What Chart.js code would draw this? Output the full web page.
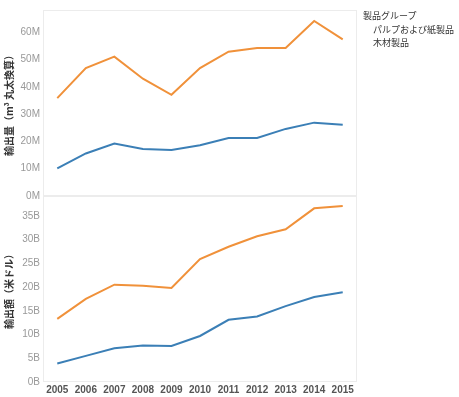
<!DOCTYPE html>
<html><head><meta charset="utf-8">
<script src="https://cdn.jsdelivr.net/npm/chart.js@4"></script>
<style>
html,body{margin:0;padding:0;background:#fff;}
#wrap{position:relative;width:459px;height:397px;}
#legend{position:absolute;left:363px;top:9px;font-family:"Noto Sans CJK JP",sans-serif;font-size:9px;color:#333;line-height:13.5px;}
#legend div.item{padding-left:10px;}
</style></head>
<body><div id="wrap"><canvas id="c" width="459" height="397"></canvas>
<div id="legend"><div>製品グループ</div><div class="item">パルプおよび紙製品</div><div class="item">木材製品</div></div></div>
<script>
const years = ['2005','2006','2007','2008','2009','2010','2011','2012','2013','2014','2015'];
const seriesNames = ['パルプおよび紙製品','木材製品'];
// 輸出量 (m3 丸太換算), millions
const volPulp = [10.1,15.6,19.2,17.2,16.9,18.6,21.3,21.3,24.6,26.9,26.1];
const volWood = [35.9,46.9,51.1,43.0,37.1,46.9,52.9,54.3,54.3,64.2,57.4];
// 輸出額 (米ドル), billions
const valPulp = [3.9,5.5,7.1,7.7,7.6,9.7,13.1,13.8,16.0,17.9,18.9];
const valWood = [13.3,17.5,20.5,20.3,19.8,25.9,28.5,30.7,32.2,36.6,37.1];
const volTicks = [0,10,20,30,40,50,60];
const valTicks = [0,5,10,15,20,25,30,35];

const BLUE='#3b7fb6', ORANGE='#f0913a';
const tickFont={family:'"Liberation Sans", Arial, sans-serif',size:10};
const titleFont={family:'"Noto Sans CJK JP", sans-serif',size:10,weight:'bold'};
const noGrid={display:false,drawTicks:false,tickLength:0};

const frame={id:'frame',afterDraw(ch){
  const c=ch.ctx;c.save();c.strokeStyle='#ececec';c.lineWidth=1;
  ['yv','yd'].forEach(k=>{const s=ch.scales[k];
    c.strokeRect(ch.chartArea.left+0.5,s.top+0.5,ch.chartArea.right-ch.chartArea.left-1,s.bottom-s.top-1);});
  c.restore();}};

function ds(label,data,color,axis){return {label,data,borderColor:color,backgroundColor:color,yAxisID:axis,
  borderWidth:2,pointRadius:0,tension:0,fill:false};}

new Chart(document.getElementById('c'),{
  type:'line',
  data:{labels:years,datasets:[
    ds(seriesNames[0],volPulp,BLUE,'yv'),
    ds(seriesNames[1],volWood,ORANGE,'yv'),
    ds(seriesNames[0],valPulp,BLUE,'yd'),
    ds(seriesNames[1],valWood,ORANGE,'yd')]},
  options:{responsive:false,animation:false,
    layout:{padding:{left:0,right:102,top:10,bottom:0}},
    plugins:{legend:{display:false},tooltip:{enabled:false}},
    scales:{
      x:{offset:true,grid:noGrid,border:{display:false},afterFit(s){s.height=15;},
        ticks:{font:{family:'"Liberation Sans", Arial, sans-serif',size:10,weight:'bold'},color:'#555',padding:2,maxRotation:0,autoSkip:false}},
      yd:{type:'linear',position:'left',stack:'p',stackWeight:1,min:0,max:39.2,afterFit(s){s.width=43;},
        grid:noGrid,border:{display:false},
        afterBuildTicks(s){s.ticks=valTicks.map(v=>({value:v}));},
        ticks:{font:tickFont,color:'#999',padding:3,autoSkip:false,callback:v=>v+'B'},
        title:{display:true,text:'輸出額（米ドル）',font:titleFont,color:'#333',padding:{top:3,bottom:2}}},
      yv:{type:'linear',position:'left',stack:'p',stackWeight:1,min:0,max:68.2,afterFit(s){s.width=43;},
        grid:noGrid,border:{display:false},
        afterBuildTicks(s){s.ticks=volTicks.map(v=>({value:v}));},
        ticks:{font:tickFont,color:'#999',padding:3,autoSkip:false,callback:v=>v+'M'},
        title:{display:true,text:'輸出量（m³ 丸太換算）',font:titleFont,color:'#333',padding:{top:3,bottom:2}}}
    }},
  plugins:[frame]
});
</script></body></html>
